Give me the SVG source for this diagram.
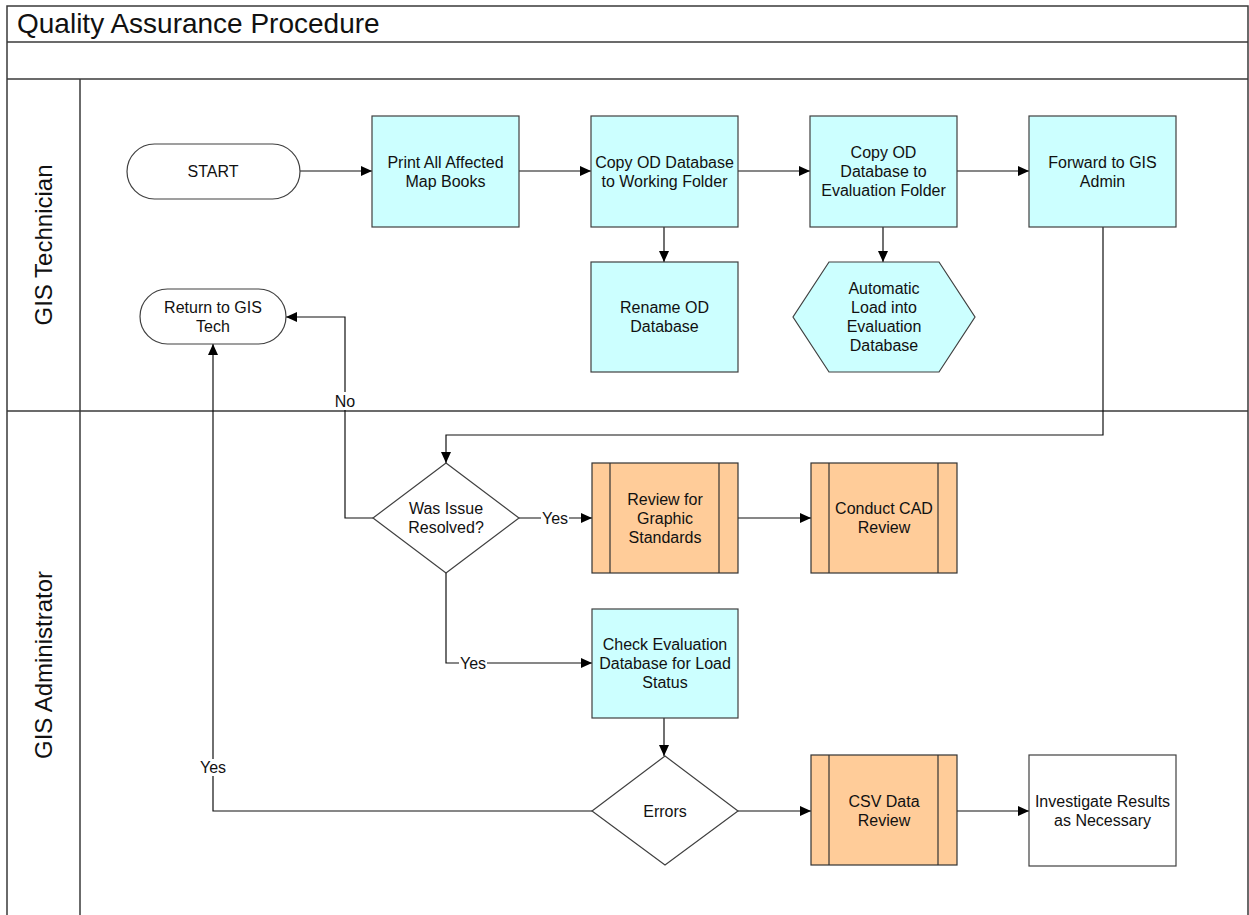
<svg xmlns="http://www.w3.org/2000/svg" width="1249" height="915" viewBox="0 0 1249 915">
  <style>
    text { font-family: "Liberation Sans", Arial, sans-serif; fill: #111; }
    .t { font-size: 16px; text-anchor: middle; }
    .lane { fill: none; stroke: #3a3a3a; stroke-width: 1.5; }
    .proc { fill: #CCFFFF; stroke: #404040; stroke-width: 1.2; }
    .sub { fill: #FFCC99; stroke: #333; stroke-width: 1.2; }
    .sub-bar { stroke: #333; stroke-width: 1.2; }
    .plain { fill: #fff; stroke: #404040; stroke-width: 1.2; }
    .conn { fill: none; stroke: #111; stroke-width: 1.2; }
    .lblbg { fill: #fff; }
  </style>
  <defs>
    <marker id="arrow" viewBox="0 0 11 10" refX="11" refY="5" markerWidth="11" markerHeight="10" markerUnits="userSpaceOnUse" orient="auto">
      <path d="M0,0 L11,5 L0,10 z" fill="#000"/>
    </marker>
  </defs>

  <rect width="1249" height="915" fill="#fff"/>

  <!-- swimlane frame -->
  <g id="frame">
    <path class="lane" d="M7,915 V6 H1248 V915"/>
    <line class="lane" x1="7" y1="42" x2="1248" y2="42"/>
    <line class="lane" x1="7" y1="79" x2="1248" y2="79"/>
    <line class="lane" x1="80" y1="79" x2="80" y2="915"/>
    <line class="lane" x1="7" y1="411" x2="1248" y2="411"/>
    <text x="17" y="33" font-size="28">Quality Assurance Procedure</text>
    <text transform="translate(52,245) rotate(-90)" font-size="24" text-anchor="middle">GIS Technician</text>
    <text transform="translate(52,665) rotate(-90)" font-size="24" text-anchor="middle">GIS Administrator</text>
  </g>

  <!-- connectors -->
  <g id="connectors">
    <line class="conn" x1="300" y1="171" x2="372" y2="171" marker-end="url(#arrow)"/>
    <line class="conn" x1="519" y1="171" x2="591" y2="171" marker-end="url(#arrow)"/>
    <line class="conn" x1="738" y1="171" x2="810" y2="171" marker-end="url(#arrow)"/>
    <line class="conn" x1="957" y1="171" x2="1029" y2="171" marker-end="url(#arrow)"/>
    <line class="conn" x1="664" y1="227" x2="664" y2="262" marker-end="url(#arrow)"/>
    <line class="conn" x1="883" y1="227" x2="883" y2="262" marker-end="url(#arrow)"/>
    <path class="conn" d="M1103,227 V435 H446 V463" marker-end="url(#arrow)"/>
    <path class="conn" d="M373,518 H345 V317 H286" marker-end="url(#arrow)"/>
    <line class="conn" x1="519" y1="518" x2="592" y2="518" marker-end="url(#arrow)"/>
    <line class="conn" x1="738" y1="518" x2="811" y2="518" marker-end="url(#arrow)"/>
    <path class="conn" d="M446,573 V663 H592" marker-end="url(#arrow)"/>
    <line class="conn" x1="664" y1="718" x2="664" y2="756" marker-end="url(#arrow)"/>
    <line class="conn" x1="738" y1="811" x2="811" y2="811" marker-end="url(#arrow)"/>
    <line class="conn" x1="957" y1="811" x2="1029" y2="811" marker-end="url(#arrow)"/>
    <path class="conn" d="M592,811 H213 V344" marker-end="url(#arrow)"/>

    <rect class="lblbg" x="334" y="392" width="22" height="18"/>
    <text class="t" x="345" y="407">No</text>
    <rect class="lblbg" x="541" y="510" width="28" height="17"/>
    <text class="t" x="555" y="524">Yes</text>
    <rect class="lblbg" x="459" y="655" width="28" height="17"/>
    <text class="t" x="473" y="669">Yes</text>
    <rect class="lblbg" x="199" y="759" width="28" height="17"/>
    <text class="t" x="213" y="773">Yes</text>
  </g>

  <!-- GIS Technician lane -->
  <g id="start">
    <rect class="plain" x="127" y="144" width="173" height="55" rx="27.5" ry="27.5"/>
    <text class="t" x="213" y="177">START</text>
  </g>
  <g id="print-map-books">
    <rect class="proc" x="372" y="116" width="147" height="111"/>
    <text class="t" x="445.5" y="168">Print All Affected</text>
    <text class="t" x="445.5" y="187">Map Books</text>
  </g>
  <g id="copy-working">
    <rect class="proc" x="591" y="116" width="147" height="111"/>
    <text class="t" x="664.5" y="168">Copy OD Database</text>
    <text class="t" x="664.5" y="187">to Working Folder</text>
  </g>
  <g id="copy-evaluation">
    <rect class="proc" x="810" y="116" width="147" height="111"/>
    <text class="t" x="883.5" y="158">Copy OD</text>
    <text class="t" x="883.5" y="177">Database to</text>
    <text class="t" x="883.5" y="196">Evaluation Folder</text>
  </g>
  <g id="forward-admin">
    <rect class="proc" x="1029" y="116" width="147" height="111"/>
    <text class="t" x="1102.5" y="168">Forward to GIS</text>
    <text class="t" x="1102.5" y="187">Admin</text>
  </g>
  <g id="rename-db">
    <rect class="proc" x="591" y="262" width="147" height="110"/>
    <text class="t" x="664.5" y="313">Rename OD</text>
    <text class="t" x="664.5" y="332">Database</text>
  </g>
  <g id="auto-load">
    <polygon class="proc" points="829,262 939,262 975,317 939,372 829,372 793,317"/>
    <text class="t" x="884" y="294">Automatic</text>
    <text class="t" x="884" y="313">Load into</text>
    <text class="t" x="884" y="332">Evaluation</text>
    <text class="t" x="884" y="351">Database</text>
  </g>
  <g id="return-tech">
    <rect class="plain" x="140" y="289" width="146" height="55" rx="27.5" ry="27.5"/>
    <text class="t" x="213" y="313">Return to GIS</text>
    <text class="t" x="213" y="332">Tech</text>
  </g>

  <!-- GIS Administrator lane -->
  <g id="issue-resolved">
    <polygon class="plain" points="446,463 519,518 446,573 373,518"/>
    <text class="t" x="446" y="514">Was Issue</text>
    <text class="t" x="446" y="533">Resolved?</text>
  </g>
  <g id="graphic-review">
    <rect class="sub" x="592" y="463" width="146" height="110"/>
    <line class="sub-bar" x1="610" y1="463" x2="610" y2="573"/>
    <line class="sub-bar" x1="719" y1="463" x2="719" y2="573"/>
    <text class="t" x="665" y="505">Review for</text>
    <text class="t" x="665" y="524">Graphic</text>
    <text class="t" x="665" y="543">Standards</text>
  </g>
  <g id="cad-review">
    <rect class="sub" x="811" y="463" width="146" height="110"/>
    <line class="sub-bar" x1="829" y1="463" x2="829" y2="573"/>
    <line class="sub-bar" x1="938" y1="463" x2="938" y2="573"/>
    <text class="t" x="884" y="514">Conduct CAD</text>
    <text class="t" x="884" y="533">Review</text>
  </g>
  <g id="check-load">
    <rect class="proc" x="592" y="609" width="146" height="109"/>
    <text class="t" x="665" y="650">Check Evaluation</text>
    <text class="t" x="665" y="669">Database for Load</text>
    <text class="t" x="665" y="688">Status</text>
  </g>
  <g id="errors">
    <polygon class="plain" points="665,756 738,811 665,865 592,811"/>
    <text class="t" x="665" y="817">Errors</text>
  </g>
  <g id="csv-review">
    <rect class="sub" x="811" y="755" width="146" height="110"/>
    <line class="sub-bar" x1="829" y1="755" x2="829" y2="865"/>
    <line class="sub-bar" x1="938" y1="755" x2="938" y2="865"/>
    <text class="t" x="884" y="807">CSV Data</text>
    <text class="t" x="884" y="826">Review</text>
  </g>
  <g id="investigate">
    <rect class="plain" x="1029" y="755" width="147" height="111"/>
    <text class="t" x="1102.5" y="807">Investigate Results</text>
    <text class="t" x="1102.5" y="826">as Necessary</text>
  </g>
</svg>
